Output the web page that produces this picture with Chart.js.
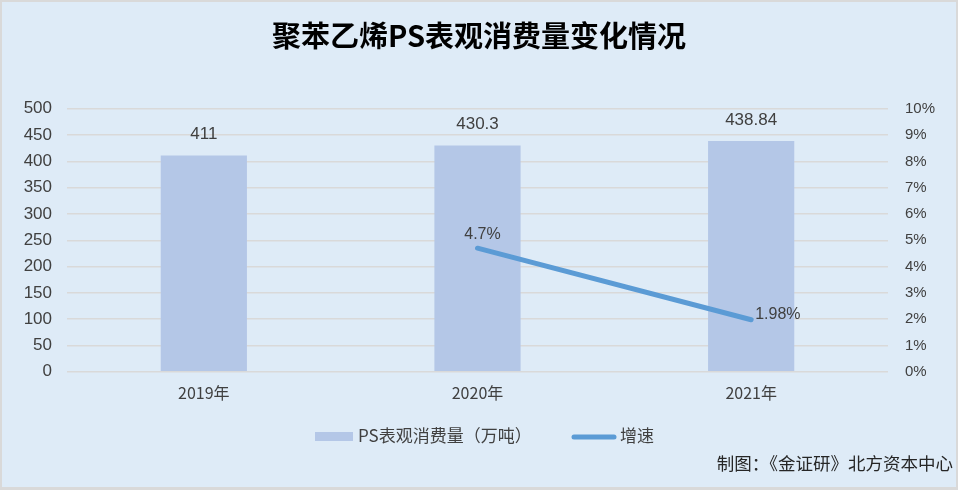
<!DOCTYPE html>
<html>
<head>
<meta charset="utf-8">
<script src="https://cdn.jsdelivr.net/npm/chart.js@4"></script>
<style>
  html, body { margin: 0; padding: 0; background: #d9d9d9; }
  #wrap { width: 958px; height: 490px; position: relative; }
</style>
</head>
<body>
<div id="wrap"><canvas id="ps" width="958" height="490"></canvas></div>
<script>
const years = ['2019年', '2020年', '2021年'];
const consumption = [411, 430.3, 438.84];
const growth = [null, 4.7, 1.98];
const growthText = ['', '4.7%', '1.98%'];

const FONT = '"Liberation Sans", "Noto Sans CJK SC", sans-serif';
const CJK = '"Noto Sans CJK SC", "Liberation Sans", sans-serif';

// background + border
const bgPlugin = {
    id: 'bg',
    beforeDraw(chart) {
        const c = chart.ctx;
        c.save();
        c.fillStyle = '#d9d9d9';
        c.fillRect(0, 0, chart.width, chart.height);
        c.fillStyle = '#deebf7';
        c.fillRect(2, 2, chart.width - 4, chart.height - 5);
        c.restore();
    }
};

// value labels, legend and footer
const labelPlugin = {
    id: 'labels',
    afterDatasetsDraw(chart) {
        const c = chart.ctx;
        c.save();
        c.fillStyle = '#404040';
        c.textBaseline = 'middle';

        c.font = '17px ' + FONT;
        c.textAlign = 'center';
        chart.getDatasetMeta(0).data.forEach((bar, i) => {
            c.fillText(String(consumption[i]), bar.x, bar.y - 21);
        });

        c.font = '16px ' + FONT;
        chart.getDatasetMeta(1).data.forEach((pt, i) => {
            if (growth[i] == null) return;
            if (i === growth.length - 1) {
                c.textAlign = 'left';
                c.fillText(growthText[i], pt.x + 4, pt.y - 5);
            } else {
                c.textAlign = 'center';
                c.fillText(growthText[i], pt.x + 5, pt.y - 14);
            }
        });
        c.restore();
    },
    afterDraw(chart) {
        const c = chart.ctx;
        const ds = chart.data.datasets;
        c.save();
        c.textBaseline = 'middle';
        c.textAlign = 'left';
        c.font = '17px ' + CJK;
        const y = 436;
        // bar item
        c.fillStyle = ds[0].backgroundColor;
        c.fillRect(315, y - 4, 38, 9);
        c.fillStyle = '#404040';
        c.fillText(ds[0].label, 358, y);
        // line item
        c.strokeStyle = ds[1].borderColor;
        c.lineWidth = 5;
        c.lineCap = 'round';
        c.beginPath();
        c.moveTo(574, y + 1);
        c.lineTo(614, y + 1);
        c.stroke();
        c.fillText(ds[1].label, 620, y);
        // footer
        c.textAlign = 'right';
        c.fillStyle = '#262626';
        c.font = '17.5px ' + CJK;
        c.fillText('制图：《金证研》北方资本中心', 953, 463);
        c.restore();
    }
};

new Chart(document.getElementById('ps'), {
    data: {
        labels: years,
        datasets: [{
            type: 'bar',
            label: 'PS表观消费量（万吨）',
            data: consumption,
            backgroundColor: '#b4c7e7',
            yAxisID: 'y',
            categoryPercentage: 1,
            barPercentage: 0.315,
            order: 2
        }, {
            type: 'line',
            label: '增速',
            data: growth,
            borderColor: '#5b9bd5',
            backgroundColor: '#5b9bd5',
            borderWidth: 5,
            borderCapStyle: 'round',
            pointRadius: 0,
            yAxisID: 'y1',
            order: 1
        }]
    },
    options: {
        responsive: false,
        animation: false,
        devicePixelRatio: 1,
        layout: { padding: { left: 0, right: 0, top: 0, bottom: 83 } },
        plugins: {
            legend: { display: false },
            tooltip: { enabled: false },
            title: {
                display: true,
                text: '聚苯乙烯PS表观消费量变化情况',
                color: '#000000',
                font: { family: CJK, size: 29, weight: 'bold' },
                padding: { top: 19, bottom: 55 }
            }
        },
        scales: {
            x: {
                grid: { display: false },
                border: { display: false },
                ticks: { color: '#404040', font: { family: CJK, size: 16 }, padding: 4 }
            },
            y: {
                position: 'left',
                min: 0, max: 500,
                ticks: { stepSize: 50, color: '#404040', font: { family: FONT, size: 17 }, padding: 15 },
                grid: { color: '#d9d9d9', lineWidth: 1.5, drawTicks: false },
                border: { display: false },
                afterFit(s) { s.width = 67; }
            },
            y1: {
                position: 'right',
                min: 0, max: 10,
                ticks: {
                    stepSize: 1, color: '#404040', font: { family: FONT, size: 15 }, padding: 17,
                    callback: v => v + '%'
                },
                grid: { display: false, drawTicks: false },
                border: { display: false },
                afterFit(s) { s.width = 70; }
            }
        }
    },
    plugins: [bgPlugin, labelPlugin]
});
</script>
</body>
</html>
